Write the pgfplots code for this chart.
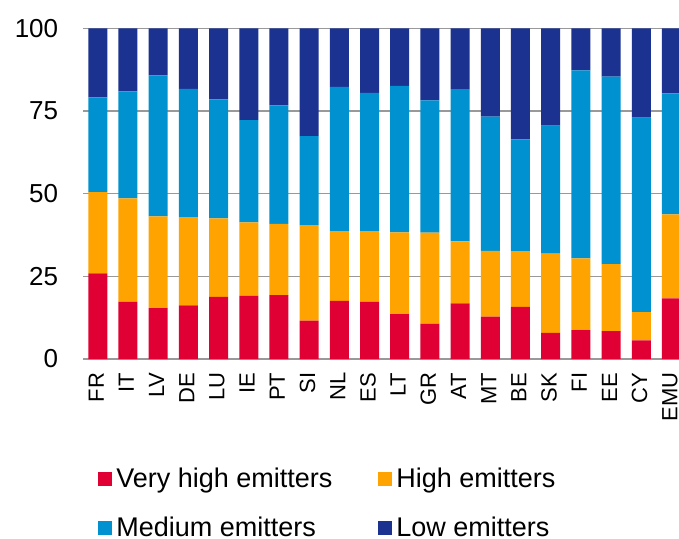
\documentclass[border=0pt]{standalone}
\usepackage{pgfplots}
\pgfplotsset{compat=1.18}
\usepackage{pgfplotstable}
\usepackage{fontspec}
\setmainfont{Liberation Sans}
\definecolor{cRed}{RGB}{225,0,52}
\definecolor{cOrange}{RGB}{255,163,0}
\definecolor{cMed}{RGB}{0,146,208}
\definecolor{cLow}{RGB}{27,50,145}
\pgfplotstableread{
x vhigh high medium low
0 25.9 24.6 28.6 20.9
1 17.3 31.3 32.3 19.1
2 15.4 27.7 42.7 14.2
3 16.2 26.7 38.8 18.3
4 18.8 23.7 36.0 21.5
5 19.1 22.2 30.9 27.8
6 19.3 21.6 35.8 23.3
7 11.6 28.9 26.9 32.6
8 17.6 21.1 43.6 17.7
9 17.3 21.4 41.8 19.5
10 13.6 24.7 44.3 17.4
11 10.6 27.6 40.0 21.8
12 16.8 18.8 46.0 18.4
13 12.8 19.9 40.6 26.7
14 15.8 16.8 33.8 33.6
15 7.9 24.0 38.7 29.4
16 8.7 21.7 56.9 12.7
17 8.4 20.3 56.7 14.6
18 5.6 8.6 58.8 27.0
19 18.3 25.4 36.6 19.7
}\datatable
\begin{document}
\begin{tikzpicture}
\useasboundingbox (-41.5pt,-89.5pt) rectangle (298pt,179.5pt);
\begin{axis}[
  at={(0,0)}, anchor=south west,
  scale only axis,
  width=298pt, height=165.35pt,
  xmin=-0.49, xmax=19.25,
  ymin=0, ymax=100,
  ybar stacked,
  bar width=9.5pt,
  axis line style={draw=none},
  tick style={draw=none},
  ytick={0,25,50,75,100},
  ymajorgrids,
  grid style={draw=black!40, line width=0.6pt},
  xtick=data,
  xticklabels={FR,IT,LV,DE,LU,IE,PT,SI,NL,ES,LT,GR,AT,MT,BE,SK,FI,EE,CY,EMU},
  x tick label style={font=\fontsize{11}{13}\selectfont, xshift=-0.8pt, rotate=90, anchor=east},
  xticklabel shift=3.3pt,
  y tick label style={font=\fontsize{13}{15}\selectfont},
  yticklabel shift=8.9pt,
  /pgf/number format/assume math mode=true,
  legend columns=2,
  legend cell align=left,
  legend style={draw=none, fill=none, at={(rel axis cs:0.025,-0.315)}, anchor=north west,
    font=\fontsize{13.5}{15}\selectfont, inner sep=0pt,
    row sep=9.3pt,
    /tikz/every even column/.append style={column sep=21pt}},
  legend image code/.code={\fill[#1] (0pt,-3.5pt) rectangle (7pt,3.5pt);},
]
\addplot[fill=cRed, draw=none] table[x=x, y=vhigh] {\datatable};
\addplot[fill=cOrange, draw=none] table[x=x, y=high] {\datatable};
\addplot[fill=cMed, draw=none] table[x=x, y=medium] {\datatable};
\addplot[fill=cLow, draw=none] table[x=x, y=low] {\datatable};
\legend{Very high emitters, High emitters, Medium emitters, Low emitters}
\end{axis}
\end{tikzpicture}
\end{document}
